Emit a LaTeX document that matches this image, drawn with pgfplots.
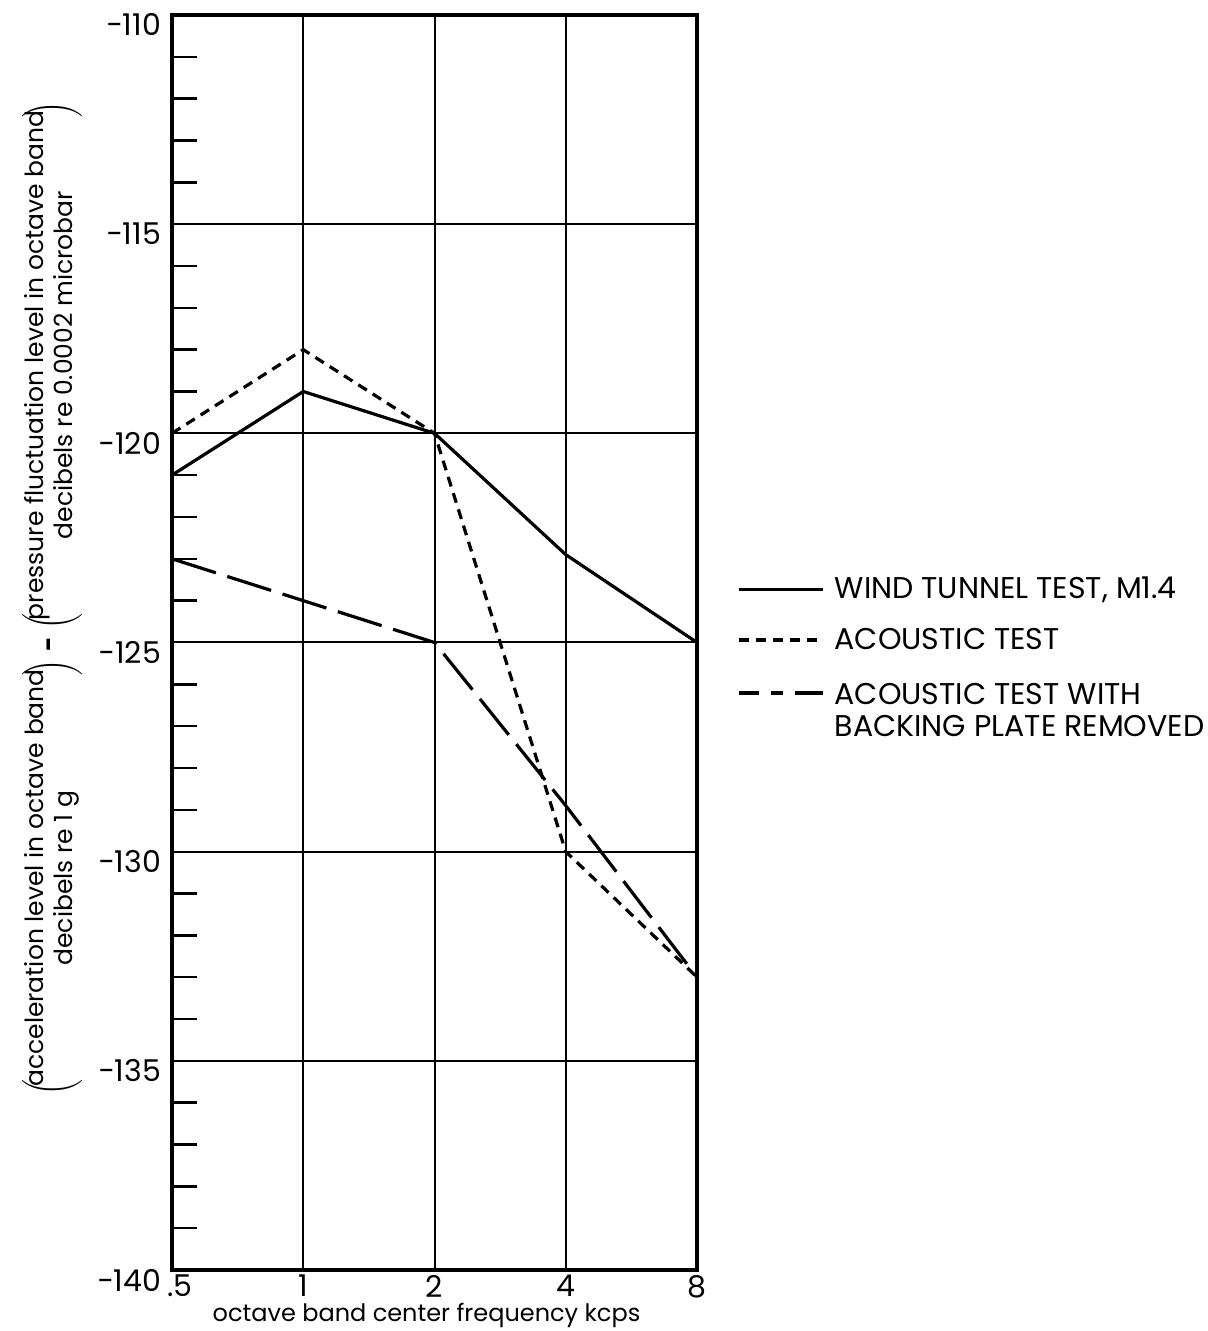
\documentclass[border=0pt]{standalone}
\usepackage{fontspec}
\setmainfont{Poppins}
\usepackage{pgfplots}
\pgfplotsset{compat=1.18}
\begin{document}
\begin{tikzpicture}
\useasboundingbox (0,0) rectangle (604pt,665.5pt);
\begin{axis}[
  at={(86pt,30.5pt)}, anchor=south west,
  scale only axis, width=262.5pt, height=627.5pt,
  xmin=0, xmax=4, ymin=-140, ymax=-110,
  xtick={0,1,2,3,4}, xticklabels={\hspace*{8pt}.5,1,2,4,8},
  ytick={-140,-135,...,-110},
  yticklabels={−140,−135,−130,−125,−120,−115,−110},
  minor ytick={-139,-138,-137,-136,-134,-133,-132,-131,-129,-128,-127,-126,-124,-123,-122,-121,-119,-118,-117,-116,-114,-113,-112,-111},
  xmajorgrids, ymajorgrids,
  grid style={black, line width=1pt},
  major tick length=0pt, minor tick length=12.5pt,
  tick align=inside, ytick pos=left, xtick pos=bottom,
  minor tick style={black, line width=1.2pt},
  axis line style={line width=2pt},
  tick label style={font=\fontsize{15}{17}\selectfont},
  yticklabel style={xshift=-2pt, yshift=-5pt},
  xticklabel style={yshift=1pt},
  xlabel={octave band center frequency kcps},
  xlabel style={font=\fontsize{12}{14}\selectfont, yshift=4pt, xshift=-4pt},
  ylabel={$\left(\mkern-5mu\mbox{\begin{tabular}{@{}c@{}}acceleration level in octave band\\decibels re 1 g\end{tabular}}\mkern-5mu\right)
    \mbox{\,\textbf{-}\,}
    \left(\mkern-5mu\mbox{\begin{tabular}{@{}c@{}}pressure fluctuation level in octave band\\decibels re 0.0002 microbar\end{tabular}}\mkern-5mu\right)$},
  ylabel style={font=\fontsize{12.5}{14.5}\selectfont, at={(rel axis cs:0,0.535)}, anchor=center, yshift=60pt},
  legend style={draw=none, at={(1.065,0.5)}, anchor=west, font=\fontsize{15}{19}\selectfont,
    cells={anchor=west}, row sep=9pt, column sep=3pt},
  legend image code/.code={\draw[#1] (0pt,0pt) -- (42pt,0pt);},
  clip=false,
]
\addplot[black, line width=1.6pt] coordinates {(0,-121) (1,-119) (2,-120) (3,-122.9) (4,-125)};
\addlegendentry{WIND TUNNEL TEST, M1.4}
\addplot[black, line width=1.6pt, dash pattern=on 5pt off 3.5pt] coordinates {(0,-120) (1,-118) (2,-120) (3,-130) (4,-133)};
\addlegendentry{ACOUSTIC TEST}
\addplot[black, line width=1.6pt, dash pattern=on 23pt off 6pt,
  legend image code/.code={\draw[black, line width=1.6pt, dash pattern=on 10pt off 6pt on 6pt off 6pt on 14pt] (0pt,0pt) -- (42pt,0pt);}] coordinates {(0,-123) (1,-124) (2,-125) (3,-128.9) (4,-133)};
\addlegendentry{\begin{tabular}[t]{@{}l@{}}ACOUSTIC TEST WITH\\[-3pt]BACKING PLATE REMOVED\end{tabular}}
\end{axis}
\end{tikzpicture}
\end{document}
